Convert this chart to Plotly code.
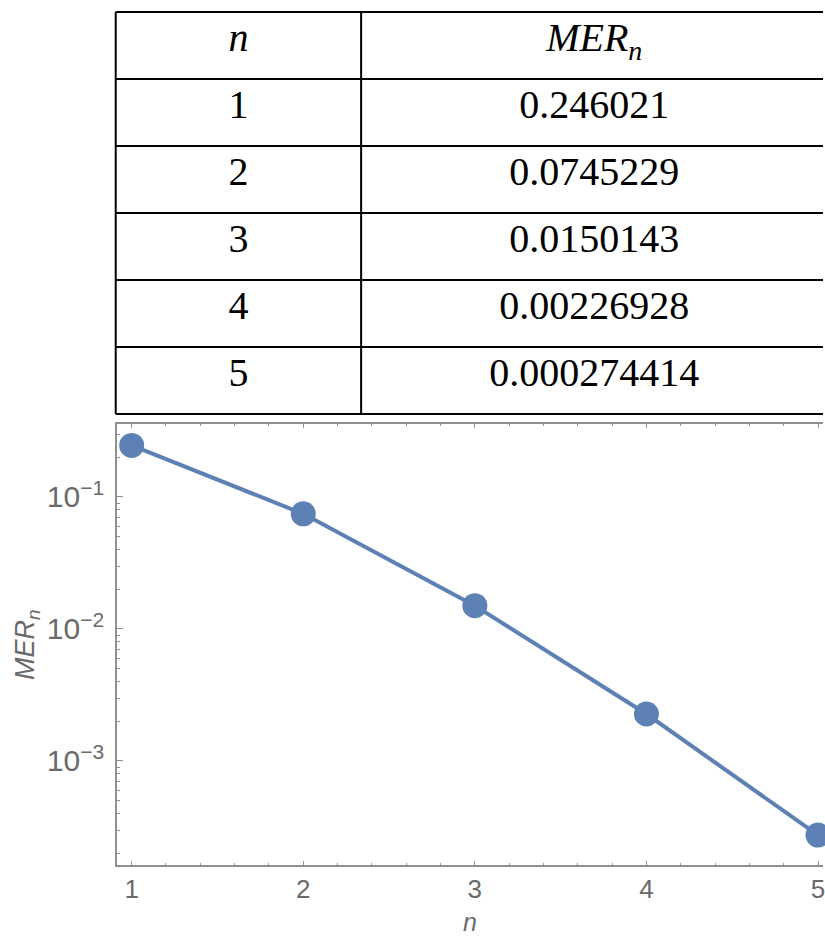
import plotly.graph_objects as go

# Table contents and plotted series
n_values = [1, 2, 3, 4, 5]
mer_values = [0.246021, 0.0745229, 0.0150143, 0.00226928, 0.000274414]
mer_labels = ["0.246021", "0.0745229", "0.0150143", "0.00226928", "0.000274414"]
header_labels = ["<i>n</i>", "<i>MER<sub>n</sub></i>"]
x_tick_values = [1, 2, 3, 4, 5]

W, H = 825, 938
BLUE = "#5E81B5"
FRAME = "#8f8f8f"
LABEL = "#6a6a6a"
SANS = "Liberation Sans, Arial, sans-serif"
SERIF = "Liberation Serif, Times New Roman, serif"

fig = go.Figure()

# ---- log plot -------------------------------------------------------------
fig.add_trace(go.Scatter(
    x=n_values, y=mer_values, mode="lines+markers",
    line=dict(color=BLUE, width=4),
    marker=dict(color=BLUE, size=25),
    cliponaxis=False, showlegend=False, hoverinfo="skip",
    xaxis="x", yaxis="y",
))

# ---- table (column units: first column = 1 unit wide, rows = 1 unit tall) ----
col_edges = [0, 1, 2.9]
n_rows = len(n_values) + 1
col_centers = [(col_edges[i] + col_edges[i + 1]) / 2 for i in range(2)]
text_lift = 0.06

cell_x, cell_y, cell_text = [], [], []
for c, label in enumerate(header_labels):
    cell_x.append(col_centers[c]); cell_y.append(0.5 - text_lift); cell_text.append(label)
for r, (n, lab) in enumerate(zip(n_values, mer_labels), start=1):
    cell_x.append(col_centers[0]); cell_y.append(r + 0.5 - text_lift); cell_text.append(str(n))
    cell_x.append(col_centers[1]); cell_y.append(r + 0.5 - text_lift); cell_text.append(lab)

fig.add_trace(go.Scatter(
    x=cell_x, y=cell_y, text=cell_text, mode="text",
    textposition="middle center",
    textfont=dict(family=SERIF, size=40, color="black"),
    cliponaxis=False, showlegend=False, hoverinfo="skip",
    xaxis="x2", yaxis="y2",
))

shapes = []
for r in range(n_rows + 1):
    shapes.append(dict(type="line", xref="x2", yref="y2",
                       x0=col_edges[0], x1=col_edges[-1], y0=r, y1=r,
                       line=dict(color="black", width=2)))
for cx in col_edges:
    shapes.append(dict(type="line", xref="x2", yref="y2",
                       x0=cx, x1=cx, y0=0, y1=n_rows,
                       line=dict(color="black", width=2)))

col_px = 246.0
row_px = 67.0
tbl_left, tbl_top = 116.0, 12.0

plot_left, plot_top, plot_bottom = 117.0, 424.0, 865.0

fig.update_layout(
    width=W, height=H,
    margin=dict(l=0, r=0, t=0, b=0),
    paper_bgcolor="white", plot_bgcolor="rgba(0,0,0,0)",
    shapes=shapes,
    xaxis=dict(
        domain=[plot_left / W, 1.0],
        range=[0.9128, 5.0291],
        tickvals=x_tick_values,
        ticks="inside", ticklen=4, tickwidth=1, tickcolor=FRAME,
        minor=dict(ticks="inside", ticklen=2, dtick=0.2, tickcolor=FRAME, tickwidth=1),
        showline=True, linecolor=FRAME, linewidth=1.5, mirror="ticks",
        showgrid=False, zeroline=False,
        tickfont=dict(family=SANS, size=26, color=LABEL),
        ticklabelstandoff=0, ticklabeloverflow="allow",
        anchor="y",
    ),
    yaxis=dict(
        domain=[(H - plot_bottom) / H, (H - plot_top) / H],
        type="log",
        range=[-3.788, -0.447],
        dtick=1, exponentformat="power", showexponent="all",
        ticks="inside", ticklen=7, tickwidth=1, tickcolor=FRAME,
        minor=dict(ticks="inside", ticklen=4, dtick="D1", tickcolor=FRAME, tickwidth=1),
        showline=True, linecolor=FRAME, linewidth=1.5, mirror=False,
        showgrid=False, zeroline=False,
        tickfont=dict(family=SANS, size=24, color=LABEL),
        ticklabelstandoff=6,
        anchor="x",
    ),
    xaxis2=dict(
        domain=[0, 1], anchor="y2",
        range=[-tbl_left / col_px, (W - tbl_left) / col_px],
        visible=False, fixedrange=True,
    ),
    yaxis2=dict(
        domain=[0, 1], anchor="x2",
        range=[(H - tbl_top) / row_px, -tbl_top / row_px],
        visible=False, fixedrange=True,
    ),
    annotations=[
        dict(text="<i>MER<sub>n</sub></i>", xref="paper", yref="paper",
             x=27 / W, y=(H - 644) / H, textangle=-90, showarrow=False,
             font=dict(family=SANS, size=27, color=LABEL),
             xanchor="center", yanchor="middle"),
        dict(text="<i>n</i>", xref="paper", yref="paper",
             x=471 / W, y=(H - 922) / H, showarrow=False,
             font=dict(family=SANS, size=25, color=LABEL),
             xanchor="center", yanchor="middle"),
    ],
)

fig.write_html("out.html")
